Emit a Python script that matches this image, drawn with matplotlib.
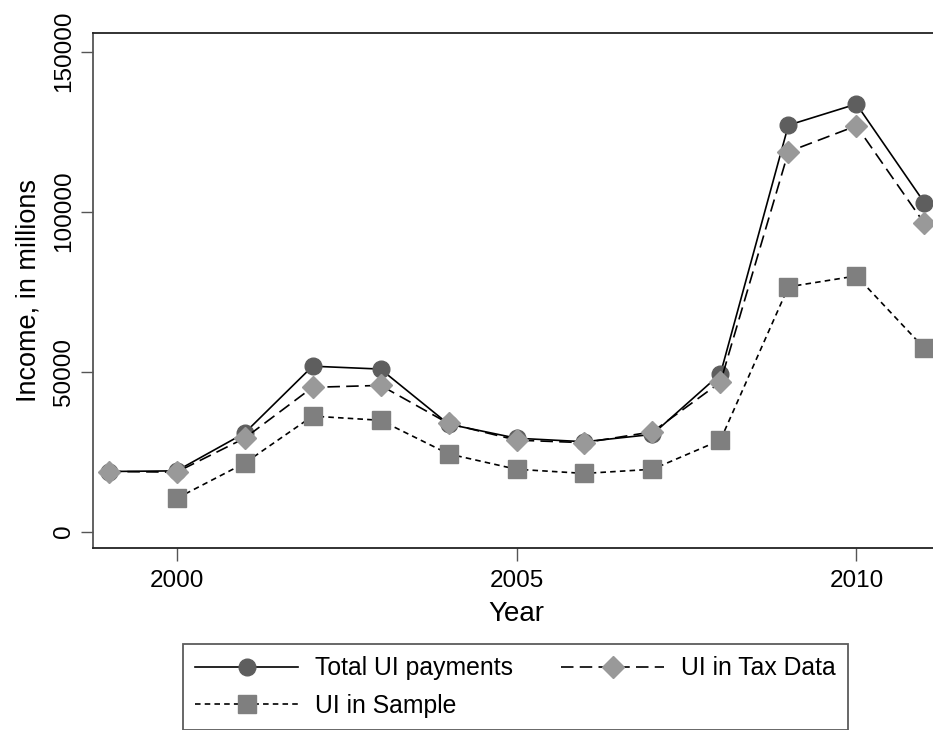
import matplotlib
matplotlib.use("Agg")
import matplotlib.pyplot as plt

plt.rcParams['font.family'] = ['Liberation Sans', 'DejaVu Sans']
plt.rcParams['lines.scale_dashes'] = False

years = [1999, 2000, 2001, 2002, 2003, 2004, 2005, 2006, 2007, 2008, 2009, 2010, 2011]
total_ui = [18800, 19000, 30800, 51700, 50800, 33600, 29200, 28100, 30400, 49300, 127000, 133600, 102800]
ui_tax = [18800, 18600, 29200, 45100, 45700, 33800, 28600, 27800, 31200, 46700, 118700, 126800, 96300]
sample_years = [2000, 2001, 2002, 2003, 2004, 2005, 2006, 2007, 2008, 2009, 2010, 2011]
ui_sample = [10400, 21400, 36100, 34800, 24300, 19500, 18200, 19500, 28600, 76500, 79900, 57300]

xticks = [2000, 2005, 2010]
yticks = [0, 50000, 100000, 150000]
labels = ["Total UI payments", "UI in Tax Data", "UI in Sample"]

fig = plt.figure(figsize=(9.33, 7.30), dpi=100)
ax = fig.add_axes([93/933, 1 - 548/730, 847/933, (548 - 33)/730])

lw = 1.2
l1, = ax.plot(years, total_ui, color='black', lw=lw, ls='-', marker='o',
              markersize=12, markerfacecolor='#5e5e5e', markeredgecolor='#5e5e5e', zorder=3)
l2, = ax.plot(years, ui_tax, color='black', lw=lw, ls=(0, (9, 4.5)), marker='D',
              markersize=11.5, markerfacecolor='#999999', markeredgecolor='#999999', zorder=4)
l3, = ax.plot(sample_years, ui_sample, color='black', lw=lw, ls=(0, (4, 3)), marker='s',
              markersize=13, markerfacecolor='#7f7f7f', markeredgecolor='#7f7f7f', zorder=5)

ax.set_xlim(1998.77, 2011.23)
ax.set_ylim(-5100, 155800)
ax.set_xticks(xticks)
ax.set_yticks(yticks)
ax.set_xticklabels([str(x) for x in xticks], fontsize=17.5)
ax.set_yticklabels([str(y) for y in yticks], fontsize=17.5, rotation=90, va='center')
ax.tick_params(axis='both', direction='out', length=9, width=1, color='#555555', pad=7)
ax.tick_params(axis='y', pad=4)
ax.set_xlabel("Year", fontsize=20, labelpad=6)
ax.set_ylabel("Income, in millions", fontsize=19.5, labelpad=8)

for side in ['left', 'bottom', 'top', 'right']:
    ax.spines[side].set_linewidth(1.3)
ax.spines['left'].set_color('#555555')
ax.spines['bottom'].set_color('#222222')
ax.spines['top'].set_color('#222222')

leg = fig.legend([l1, l3, l2], [labels[0], labels[2], labels[1]], ncol=2,
                 loc='upper left', bbox_to_anchor=(183/933, 1 - 644/730),
                 fontsize=17.8, frameon=True, fancybox=False,
                 edgecolor='#333333', handlelength=4.15, handletextpad=0.7,
                 columnspacing=1.95, borderaxespad=0, labelspacing=0.55, borderpad=0.5)
leg.get_frame().set_linewidth(1.3)

fig.savefig("out.png", dpi=100, facecolor='white')
